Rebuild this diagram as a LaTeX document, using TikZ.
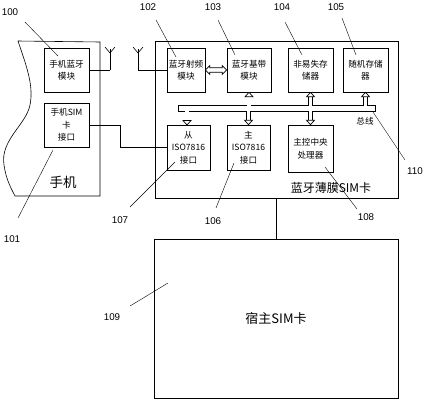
\documentclass[tikz,border=0pt]{standalone}
\usepackage{fontspec}
\setmainfont{Liberation Sans}
\newfontfamily\cjk{Noto Sans CJK SC}
\usetikzlibrary{calc}
\begin{document}
\begin{tikzpicture}[x=1pt,y=-1pt,
  box/.style={draw, line width=0.6pt, inner sep=0pt, align=center,
    font=\cjk\fontsize{8.6}{12.5}\selectfont},
  num/.style={font=\fontsize{9.8}{10}\selectfont, inner sep=0.5pt},
  lead/.style={line width=0.4pt},
  wire/.style={line width=0.6pt},
  busout/.style={line width=6.4pt, draw=black},
  busin/.style={line width=4.8pt, draw=white},
  brout/.style={line width=4.8pt, draw=black},
  brin/.style={line width=3.2pt, draw=white},
  tip/.style={fill=white, draw=black, line width=0.7pt, line join=miter}]
\useasboundingbox (0,0) rectangle (426,400);

% phone outline
\draw[wire] (100,42) -- (18,41) .. controls (26,65) and (34,85) .. (30,105)
  .. controls (26,125) and (0,140) .. (4,165) .. controls (6,180) and (12,190) .. (15,196)
  -- (100,196) -- cycle;
\node[font=\cjk\fontsize{13.5}{15}\selectfont, inner sep=0pt] (phonelbl) at (63,182) {手机};

% phone modules
\node[box, minimum width=45, minimum height=44] (pbt) at (66.5,70) {手机蓝牙\\模块};
\node[box, minimum width=45, minimum height=44] (psim) at (66.5,125) {手机SIM\\卡\\接口};

% bluetooth SIM card
\node[draw, line width=0.6pt, minimum width=243, minimum height=157, inner sep=0pt] (card) at (276.5,119.5) {};
\node[font=\cjk\fontsize{12}{14}\selectfont, inner sep=0pt] (cardlbl) at (331,188) {蓝牙薄膜SIM卡};

\node[box, minimum width=38, minimum height=44] (rf) at (186,70) {蓝牙射频\\模块};
\node[box, minimum width=44, minimum height=44] (bb) at (249,70) {蓝牙基带\\模块};
\node[box, minimum width=45, minimum height=44] (nv) at (310.5,70) {非易失存\\储器};
\node[box, minimum width=45, minimum height=44] (ram) at (365.5,70) {随机存储\\器};
\node[box, minimum width=43, minimum height=45] (slave) at (188.5,147.5) {从\\ISO7816\\接口};
\node[box, minimum width=43, minimum height=45] (master) at (248.5,147.5) {主\\ISO7816\\接口};
\node[box, minimum width=45, minimum height=47] (cpu) at (310.5,148.5) {主控中央\\处理器};
\node[font=\cjk\fontsize{8.6}{10}\selectfont, inner sep=0pt] (buslbl) at (365,121) {总线};

% host SIM card
\node[draw, line width=0.6pt, minimum width=244, minimum height=159, inner sep=0pt,
  font=\cjk\fontsize{13}{15}\selectfont] (host) at (276,318.5) {宿主SIM卡};

% antennas
\coordinate (ant1) at (110,70);
\coordinate (ant2) at (138,70);
\foreach \a in {ant1,ant2}{
  \draw[wire] (\a) -- ++(0,-21);
  \draw[wire] ($(\a)+(0,-17)$) -- ++(-5,-6);
  \draw[wire] ($(\a)+(0,-17)$) -- ++(5,-6);
}
\draw[wire] (pbt.east) -- (ant1);
\draw[wire] (ant2) -- (rf.west);

% SIM interface wire
\draw[wire] (psim.east) -- ++(31,0) |- (slave.west);

% card to host
\draw[wire] (card.south) -- (card.south |- host.north);

% hollow double arrow between RF and baseband
\draw[tip] (rf.east) -- ++(4.5,-4.5) -- ++(0,2.3) -- ($(bb.west)+(-4.5,-2.2)$)
  -- ++(0,-2.3) -- (bb.west) -- ++(-4.5,4.5) -- ++(0,-2.3)
  -- ($(rf.east)+(4.5,2.2)$) -- ++(0,2.3) -- cycle;

% bus
\coordinate (busL) at (178,108.5);
\coordinate (busR) at (376,108.5);
\draw[brout] (bb.south |- busL) -- ($(bb.south)+(0,4)$);
\draw[brout] (nv.south |- busL) -- ($(nv.south)+(0,4)$);
\draw[brout] (ram.south |- busL) -- ($(ram.south)+(0,4)$);
\draw[brout] (187,108.5) -- (187,121);
\draw[brout] (master.north |- busL) -- ($(master.north)+(0,-4)$);
\draw[brout] (cpu.north |- busL) -- ($(cpu.north)+(0,-4)$);
\draw[busout] (busL) -- (busR);

\draw[busin] ($(busL)+(0.8,0)$) -- ($(busR)+(-0.8,0)$);
\draw[brin] (bb.south |- busL) -- ($(bb.south)+(0,3.5)$);
\draw[brin] (nv.south |- busL) -- ($(nv.south)+(0,3.5)$);
\draw[brin] (ram.south |- busL) -- ($(ram.south)+(0,3.5)$);
\draw[brin] (187,108.5) -- (187,121.5);
\draw[brin] (master.north |- busL) -- ($(master.north)+(0,-3.5)$);
\draw[brin] (cpu.north |- busL) -- ($(cpu.north)+(0,-3.5)$);

% arrow tips
\foreach \n in {bb,nv,ram}{
  \draw[tip] (\n.south) -- ++(4,4.5) -- ++(-8,0) -- cycle;
}
\foreach \n in {master,cpu}{
  \draw[tip] (\n.north) -- ++(4,-4.5) -- ++(-8,0) -- cycle;
}
\draw[tip] (187,125) -- ++(4,-4.5) -- ++(-8,0) -- cycle;

% reference numbers and leaders
\node[num] (n100) at (10,12) {100};
\node[num] (n101) at (12,239) {101};
\node[num] (n102) at (148,7) {102};
\node[num] (n103) at (213,7) {103};
\node[num] (n104) at (282,7) {104};
\node[num] (n105) at (336,7) {105};
\node[num] (n106) at (213,221) {106};
\node[num] (n107) at (120,220) {107};
\node[num] (n108) at (366,217) {108};
\node[num] (n109) at (112,317) {109};
\node[num] (n110) at (415,171) {110};

\coordinate (e100) at (58,56);
\coordinate (e101) at (53,150);
\coordinate (e102) at (176,57);
\coordinate (e103) at (235,55);
\coordinate (e104) at (302,55);
\coordinate (e105) at (356,55);
\coordinate (e106) at (234,163);
\coordinate (e107) at (175,162);
\coordinate (e108) at (325,167);
\coordinate (e109) at (168,283);
\coordinate (e110) at (373,112);

\draw[lead] (25,22) -- (e100);
\draw[lead] (18,218) -- (e101);
\draw[lead] (156,20) -- (e102);
\draw[lead] (218,20) -- (e103);
\draw[lead] (285,22) -- (e104);
\draw[lead] (342,18) -- (e105);
\draw[lead] (216,208) -- (e106);
\draw[lead] (130,207) -- (e107);
\draw[lead] (357,209) -- (e108);
\draw[lead] (130,306) -- (e109);
\draw[lead] (405,160) -- (e110);
\end{tikzpicture}
\end{document}
